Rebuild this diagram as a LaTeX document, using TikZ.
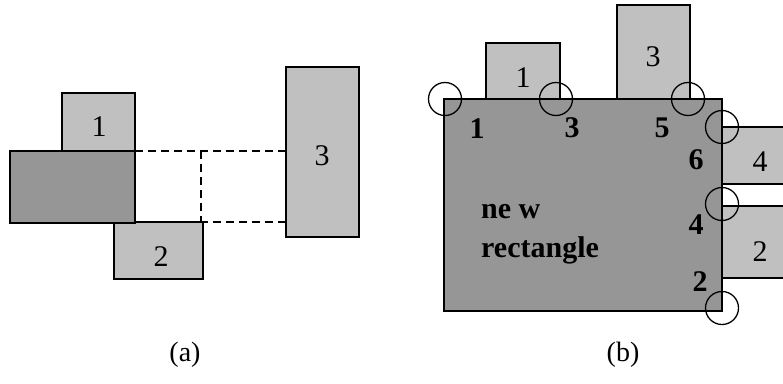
\documentclass[tikz,border=0pt]{standalone}
\usepackage{fontspec}
\setmainfont{Liberation Serif}
\definecolor{lightg}{RGB}{192,192,192}
\definecolor{darkg}{RGB}{150,150,150}
\begin{document}
\begin{tikzpicture}[x=1pt,y=-1pt,
  box/.style={draw=black,line width=1.3pt},
  lbox/.style={box,fill=lightg},
  dbox/.style={box,fill=darkg},
  dashline/.style={draw=black,line width=1.4pt,dash pattern=on 8pt off 5pt},
  ring/.style={draw=black,line width=1.3pt},
  num/.style={font=\fontsize{30}{34}\selectfont,inner sep=0pt},
  bnum/.style={font=\fontsize{30}{34}\selectfont\bfseries,inner sep=0pt},
  captext/.style={font=\fontsize{28}{32}\selectfont,inner sep=0pt}]
\useasboundingbox (0,0) rectangle (783,383);
\clip (0,0) rectangle (783,383);
% (a)
\draw[lbox] (62,93) rectangle (135,151);
\draw[lbox] (114,222) rectangle (203,279);
\draw[lbox] (286,67) rectangle (359,237);
\draw[dbox] (10,151) rectangle (135,223);
\draw[dashline] (135,151) -- (286,151);
\draw[dashline] (135,222) -- (286,222);
\draw[dashline] (201,151) -- (201,222);
\draw[dashline] (286,151) -- (286,222);
\node[num] (a1) at (99,127) {1};
\node[num] (a2) at (161,257) {2};
\node[num] (a3) at (322,156) {3};
\node[captext] (capa) at (185,355) {(a)};
% (b)
\draw[lbox] (486,43) rectangle (560,99);
\draw[lbox] (617,5) rectangle (690,100);
\draw[lbox] (722,127) rectangle (795,184);
\draw[lbox] (722,206) rectangle (795,278);
\draw[dbox] (444,99) rectangle (722,311);
\node[num] (b1) at (523,78) {1};
\node[num] (b3) at (653,57) {3};
\node[num] (b4) at (760,162) {4};
\node[num] (b2) at (760,252) {2};
\foreach \p/\q in {445/99,556/99,688/99,722/127,722/204,722/308}
  \draw[ring] (\p,\q) circle (16.5);
\node[bnum] (c1) at (477,129) {1};
\node[bnum] (c3) at (572,128) {3};
\node[bnum] (c5) at (662,128) {5};
\node[bnum] (c6) at (696,160) {6};
\node[bnum] (c4) at (696,225) {4};
\node[bnum] (c2) at (700,282) {2};
\node[bnum,anchor=base west] (nw) at (481,218) {ne w};
\node[bnum,anchor=base west] (rect) at (481,257) {rectangle};
\node[captext] (capb) at (623,355) {(b)};
\end{tikzpicture}
\end{document}
